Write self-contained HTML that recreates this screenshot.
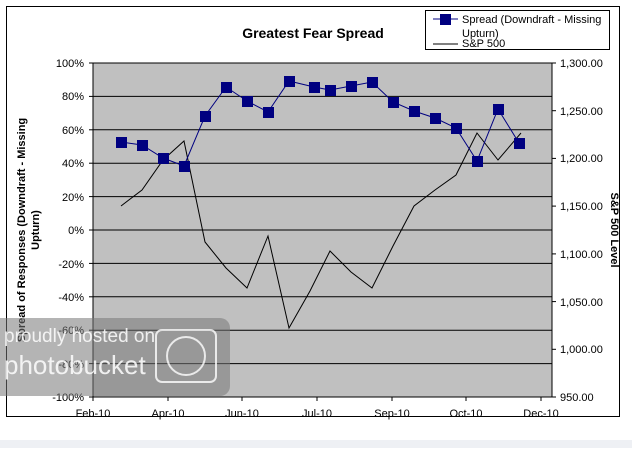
<!DOCTYPE html>
<html><head><style>
body{margin:0;background:#fff;width:632px;height:448px;overflow:hidden;font-family:"Liberation Sans",Arial,sans-serif}
</style></head><body>
<svg width="632" height="448" xmlns="http://www.w3.org/2000/svg" font-family="Liberation Sans, Arial, sans-serif">
<rect x="0" y="0" width="632" height="448" fill="#fff"/>
<rect x="6.5" y="6.5" width="613" height="410" fill="#fff" stroke="#000"/>
<rect x="0" y="440" width="632" height="8" fill="#eef0f4"/>
<rect x="93" y="63" width="459" height="334" fill="#c0c0c0" stroke="#000"/>
<g stroke="#000" stroke-width="1">
<line x1="93" y1="96.4" x2="552" y2="96.4"/><line x1="93" y1="129.8" x2="552" y2="129.8"/>
<line x1="93" y1="163.2" x2="552" y2="163.2"/><line x1="93" y1="196.6" x2="552" y2="196.6"/>
<line x1="93" y1="230" x2="552" y2="230"/><line x1="93" y1="263.4" x2="552" y2="263.4"/>
<line x1="93" y1="296.8" x2="552" y2="296.8"/><line x1="93" y1="330.2" x2="552" y2="330.2"/>
<line x1="93" y1="363.6" x2="552" y2="363.6"/>
<line x1="89" y1="63" x2="93" y2="63"/><line x1="89" y1="96.4" x2="93" y2="96.4"/><line x1="89" y1="129.8" x2="93" y2="129.8"/><line x1="89" y1="163.2" x2="93" y2="163.2"/><line x1="89" y1="196.6" x2="93" y2="196.6"/><line x1="89" y1="230" x2="93" y2="230"/><line x1="89" y1="263.4" x2="93" y2="263.4"/><line x1="89" y1="296.8" x2="93" y2="296.8"/><line x1="89" y1="330.2" x2="93" y2="330.2"/><line x1="89" y1="363.6" x2="93" y2="363.6"/><line x1="89" y1="397" x2="93" y2="397"/>
<line x1="552" y1="63" x2="556" y2="63"/><line x1="552" y1="110.7" x2="556" y2="110.7"/><line x1="552" y1="158.4" x2="556" y2="158.4"/><line x1="552" y1="206.1" x2="556" y2="206.1"/><line x1="552" y1="253.9" x2="556" y2="253.9"/><line x1="552" y1="301.6" x2="556" y2="301.6"/><line x1="552" y1="349.3" x2="556" y2="349.3"/><line x1="552" y1="397" x2="556" y2="397"/>
<line x1="93" y1="397" x2="93" y2="401"/><line x1="168" y1="397" x2="168" y2="401"/><line x1="242" y1="397" x2="242" y2="401"/><line x1="317" y1="397" x2="317" y2="401"/><line x1="392" y1="397" x2="392" y2="401"/><line x1="466" y1="397" x2="466" y2="401"/><line x1="541" y1="397" x2="541" y2="401"/>
</g>
<polyline fill="none" stroke="#000" stroke-width="1" points="121,206 142,190 163,160 184,141 205,242 226,268 247,288 268,236 289,328 310,291 330,251 351,272 372,288 393,246 414,206 435,190 456,175 477,133 498,160 521,133"/>
<polyline fill="none" stroke="#000080" stroke-width="1" points="121,142 142,145 163,158 184,166 205,116 226,87 247,101 268,112 289,81 314,87 330,90 351,86 372,82 393,102 414,111 435,118 456,128 477,161 498,109 519,143"/>
<g fill="#000080">
<rect x="116" y="137" width="11" height="11"/><rect x="137" y="140" width="11" height="11"/><rect x="158" y="153" width="11" height="11"/><rect x="179" y="161" width="11" height="11"/><rect x="200" y="111" width="11" height="11"/><rect x="221" y="82" width="11" height="11"/><rect x="242" y="96" width="11" height="11"/><rect x="263" y="107" width="11" height="11"/><rect x="284" y="76" width="11" height="11"/><rect x="309" y="82" width="11" height="11"/><rect x="325" y="85" width="11" height="11"/><rect x="346" y="81" width="11" height="11"/><rect x="367" y="77" width="11" height="11"/><rect x="388" y="97" width="11" height="11"/><rect x="409" y="106" width="11" height="11"/><rect x="430" y="113" width="11" height="11"/><rect x="451" y="123" width="11" height="11"/><rect x="472" y="156" width="11" height="11"/><rect x="493" y="104" width="11" height="11"/><rect x="514" y="138" width="11" height="11"/>
</g>
<text x="313" y="38" font-size="14" font-weight="bold" text-anchor="middle">Greatest Fear Spread</text>
<g font-size="11" text-anchor="end">
<text x="84" y="67">100%</text><text x="84" y="100">80%</text><text x="84" y="134">60%</text><text x="84" y="167">40%</text><text x="84" y="201">20%</text><text x="84" y="234">0%</text><text x="84" y="268">-20%</text><text x="84" y="301">-40%</text><text x="84" y="334">-60%</text><text x="84" y="368">-80%</text><text x="84" y="401">-100%</text>
</g>
<g font-size="11">
<text x="560" y="67">1,300.00</text><text x="560" y="115">1,250.00</text><text x="560" y="162">1,200.00</text><text x="560" y="210">1,150.00</text><text x="560" y="258">1,100.00</text><text x="560" y="306">1,050.00</text><text x="560" y="353">1,000.00</text><text x="560" y="401">950.00</text>
</g>
<g font-size="11" text-anchor="middle">
<text x="93" y="417">Feb-10</text><text x="168" y="417">Apr-10</text><text x="242" y="417">Jun-10</text><text x="317" y="417">Jul-10</text><text x="392" y="417">Sep-10</text><text x="466" y="417">Oct-10</text><text x="541" y="417">Dec-10</text>
</g>
<text transform="translate(25,230) rotate(-90)" font-size="11" font-weight="bold" text-anchor="middle">Spread of Responses (Downdraft - Missing</text>
<text transform="translate(39,230) rotate(-90)" font-size="11" font-weight="bold" text-anchor="middle">Upturn)</text>
<text transform="translate(611,230) rotate(90)" font-size="11" font-weight="bold" text-anchor="middle">S&amp;P 500 Level</text>
<rect x="425.5" y="10.5" width="184" height="39" fill="#fff" stroke="#000"/>
<line x1="433" y1="19" x2="458" y2="19" stroke="#000080"/>
<rect x="440" y="14" width="11" height="11" fill="#000080"/>
<text x="462" y="23" font-size="11">Spread (Downdraft - Missing</text>
<text x="462" y="37" font-size="11">Upturn)</text>
<line x1="433" y1="44" x2="458" y2="44" stroke="#000"/>
<text x="462" y="47" font-size="11">S&amp;P 500</text>
<rect x="-10" y="318" width="240" height="78" rx="10" fill="#777" opacity="0.55"/>
<text x="4" y="342" font-size="19" fill="#fff" opacity="0.85">proudly hosted on</text>
<text x="4" y="374" font-size="26" fill="#fff" opacity="0.85">photobucket</text>
<rect x="156" y="330" width="60" height="52" rx="6" fill="none" stroke="#fff" stroke-width="2" opacity="0.8"/>
<circle cx="186" cy="356" r="19" fill="none" stroke="#fff" stroke-width="2" opacity="0.8"/>
</svg>
</body></html>
